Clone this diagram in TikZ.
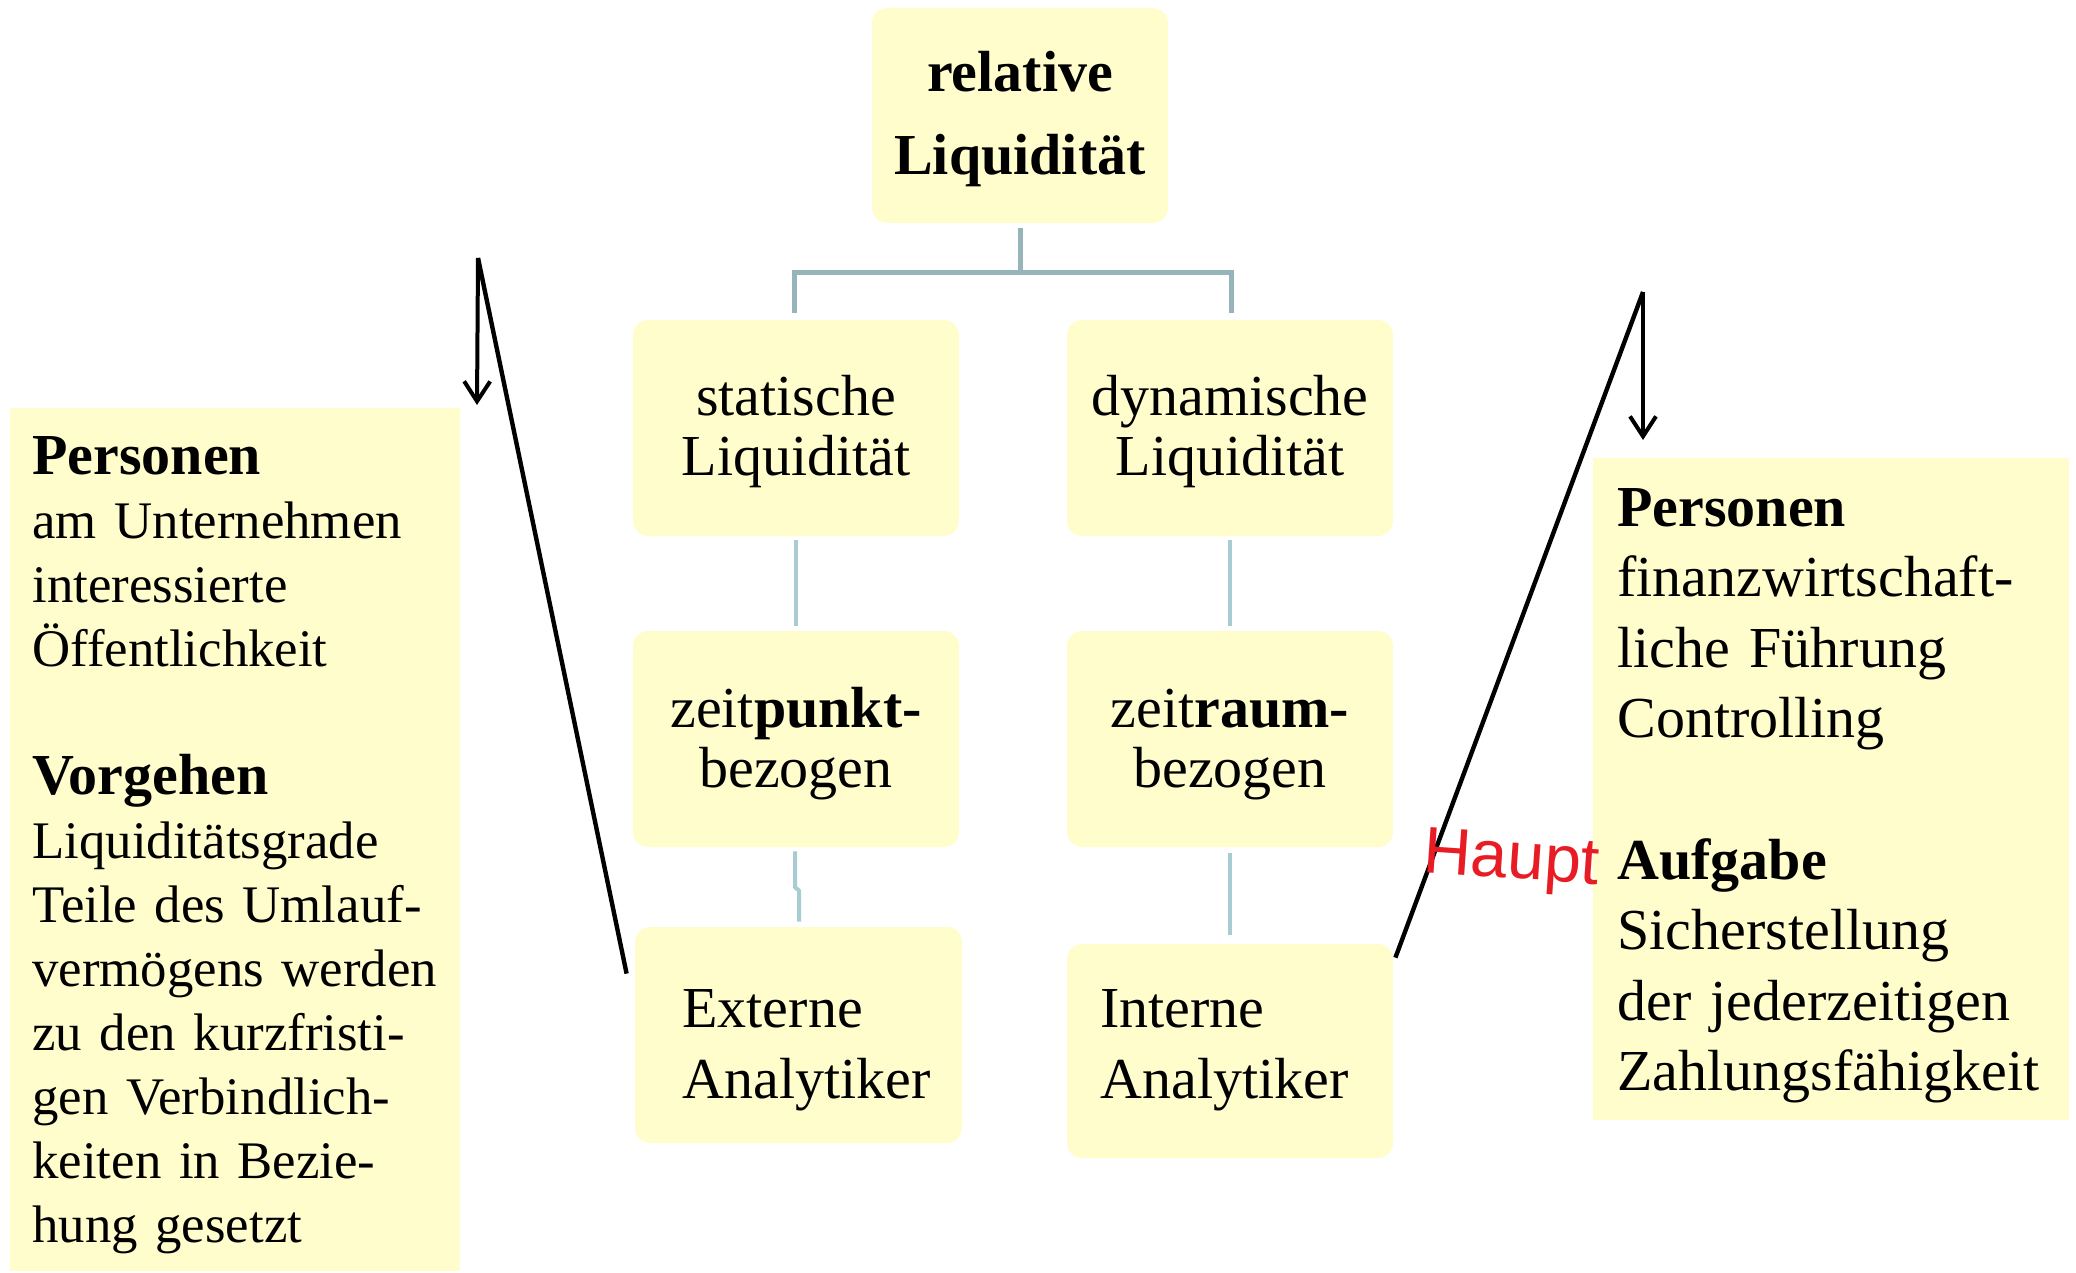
\documentclass[tikz,border=0pt]{standalone}
\usepackage{fontspec}
\setmainfont{Liberation Serif}
\newfontfamily\handfont{Liberation Sans}
\usetikzlibrary{arrows.meta}
\definecolor{boxfill}{RGB}{255,253,204}
\definecolor{connA}{RGB}{150,180,186}
\definecolor{connB}{RGB}{168,204,209}
\definecolor{handred}{RGB}{232,28,36}
\tikzset{
  box/.style={fill=boxfill, draw=none, rounded corners=7.5pt, inner sep=0pt, minimum width=163pt, minimum height=108pt},
  sqbox/.style={fill=boxfill, draw=none, inner sep=0pt},
  conn/.style={draw=connB, line width=2pt, line join=round},
  conntop/.style={draw=connA, line width=2.5pt},
  pointer/.style={draw=black, line width=2.2pt},
  pointarrow/.style={draw=black, line width=2pt, -{Straight Barb[length=10pt, width=13pt]}},
  midtext/.style={inner sep=0pt, anchor=base, align=center, text width=160pt,
    font=\fontsize{29}{30}\selectfont},
  anatext/.style={inner sep=0pt, anchor=base west, align=left, text width=150pt,
    font=\fontsize{29}{35.5}\selectfont},
  sidetext/.style={inner sep=0pt, anchor=base west, align=left}
}
\begin{document}
\begin{tikzpicture}[x=0.5pt, y=-0.5pt]
\useasboundingbox (0,0) rectangle (2076,1273);

% boxes
\node[box, minimum width=148pt, minimum height=107.5pt] (top) at (1020,115.5) {};
\node[box] (stat) at (796,428) {};
\node[box] (dyn) at (1230,428) {};
\node[box] (zp) at (796,739) {};
\node[box] (zr) at (1230,739) {};
\node[box, minimum width=163.5pt] (ext) at (798.5,1035) {};
\node[box, minimum height=107pt] (int) at (1230,1051) {};
\node[sqbox, minimum width=225pt, minimum height=431.5pt] (leftbox) at (235,839.5) {};
\node[sqbox, minimum width=238pt, minimum height=331pt] (rightbox) at (1831,789) {};

% texts
\node[midtext, font=\fontsize{29}{41.5}\selectfont\bfseries] (top-t) at (1020,92) {relative\\Liquidität};
\node[midtext] (stat-t) at (796,415) {statische\\Liquidität};
\node[midtext] (dyn-t) at (1230,415) {dynamische\\Liquidität};
\node[midtext] (zp-t) at (796,727) {zeit\textbf{punkt-}\\bezogen};
\node[midtext] (zr-t) at (1230,727) {zeit\textbf{raum-}\\bezogen};
\node[anatext] (ext-t) at (682,1027) {Externe\\Analytiker};
\node[anatext] (int-t) at (1100,1027) {Interne\\Analytiker};

\node[sidetext, text width=220pt, font=\fontsize{26.4}{32}\selectfont] (left-t) at (32,474)
 {{\fontsize{29}{32}\selectfont\bfseries Personen}\\
  am Unternehmen\\
  interessierte\\
  Öffentlichkeit\\[32pt]
  {\fontsize{29}{32}\selectfont\bfseries Vorgehen}\\
  Liquiditätsgrade\\
  Teile des Umlauf-\\
  vermögens werden\\
  zu den kurzfristi-\\
  gen Verbindlich-\\
  keiten in Bezie-\\
  hung gesetzt};

\node[sidetext, text width=230pt, font=\fontsize{29}{35.3}\selectfont] (right-t) at (1617,526)
 {\textbf{Personen}\\
  finanzwirtschaft-\\
  liche Führung\\
  Controlling\\[35.3pt]
  \textbf{Aufgabe}\\
  Sicherstellung\\
  der jederzeitigen\\
  Zahlungsfähigkeit};

% tree connectors
\draw[conntop] ([yshift=-2.5pt]top.south) -- ++(0,44) coordinate (bar);
\draw[conntop] ([xshift=-1pt,yshift=3.5pt]stat.north) |- (bar) -| ([xshift=0.5pt,yshift=3.5pt]dyn.north);
\draw[conn] ([yshift=-2pt]stat.south) -- ([yshift=2.5pt]zp.north);
\draw[conn] ([yshift=-2pt]dyn.south) -- ([yshift=2.5pt]zr.north);
\draw[conn] ([xshift=-0.5pt,yshift=-2pt]zp.south) -- ++(0,36) -- ++(4,3) -- ([xshift=0.25pt,yshift=2.5pt]ext.north);
\draw[conn] ([yshift=-3pt]zr.south) -- ([yshift=4.5pt]int.north);

% black pointer lines
\coordinate (lapex) at (478,258);
\coordinate (ltip) at (477,405);
\coordinate (rapex) at (1643,292);
\coordinate (rtip) at (1643,440);
\draw[pointer] (lapex) -- ([xshift=-4pt,yshift=-23.5pt]ext.north west);
\draw[pointarrow] (lapex) -- (ltip);
\draw[pointer] (rapex) -- ([xshift=1pt,yshift=-7pt]int.north east);
\draw[pointarrow] (rapex) -- (rtip);

% handwritten note
\node[inner sep=0pt, anchor=base west, rotate=-4, text=handred, font=\handfont\fontsize{33}{33}\selectfont] (haupt) at (1422,872) {Haupt};
\end{tikzpicture}
\end{document}
